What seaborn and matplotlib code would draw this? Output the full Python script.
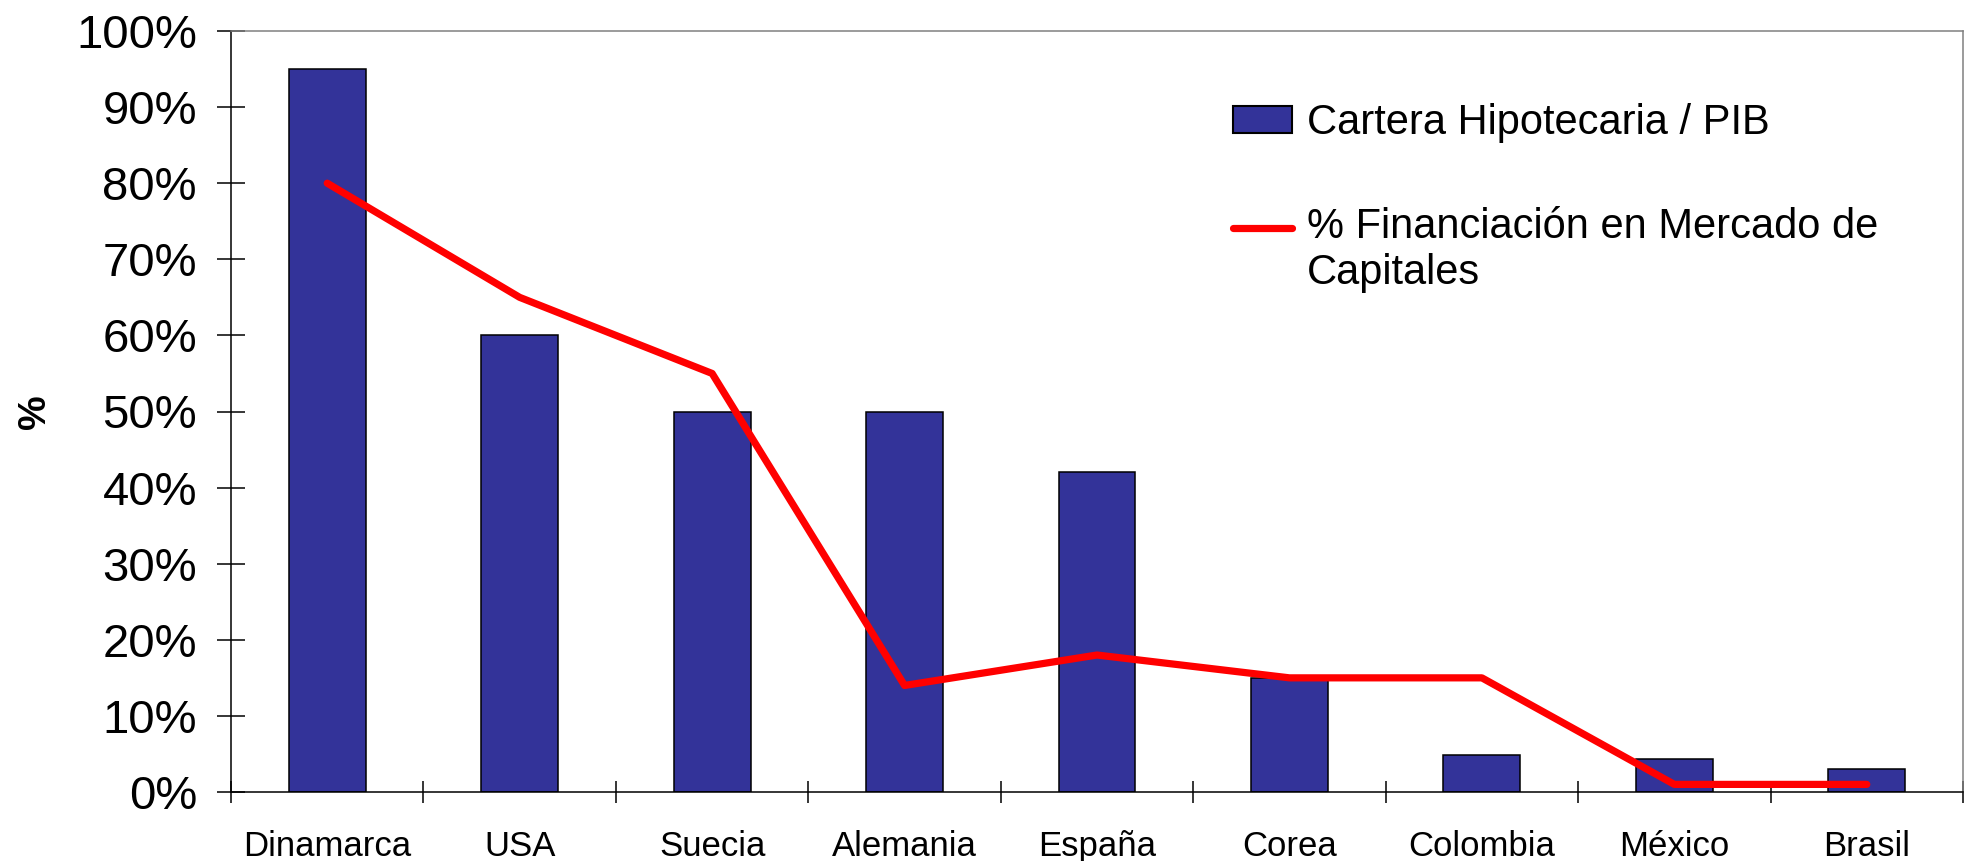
import numpy as np
import seaborn as sns
import matplotlib.pyplot as plt
from matplotlib.patches import Patch
from matplotlib.lines import Line2D

# Data
paises = ['Dinamarca', 'USA', 'Suecia', 'Alemania', 'España',
          'Corea', 'Colombia', 'México', 'Brasil']
cartera_pib = [95, 60, 50, 50, 42, 15, 4.8, 4.3, 3]
financiacion_mercado = [80, 65, 55, 14, 18, 15, 15, 1, 1]
y_ticks = list(range(0, 101, 10))
label_barras = 'Cartera Hipotecaria / PIB'
label_linea = '% Financiación en Mercado de\nCapitales'

sns.set_style('white')
plt.rcParams['font.family'] = ['Liberation Sans', 'DejaVu Sans']
plt.rcParams['text.color'] = 'black'
plt.rcParams['axes.labelcolor'] = 'black'
plt.rcParams['xtick.color'] = 'black'
plt.rcParams['ytick.color'] = 'black'

BAR_COLOR = '#333399'

fig = plt.figure(figsize=(19.68, 8.61), dpi=100)
ax = fig.add_axes([231 / 1968, 1 - 792 / 861, 1732 / 1968, 761 / 861])

# Bars
sns.barplot(x=paises, y=cartera_pib, color=BAR_COLOR, saturation=1,
            width=0.4, edgecolor='black', linewidth=1.1, ax=ax)

# Line
sns.lineplot(x=np.arange(len(paises)), y=financiacion_mercado, color='#FF0000',
             linewidth=5.2, solid_capstyle='round', solid_joinstyle='round',
             ax=ax, zorder=5, legend=False)

ax.set_xlim(-0.5, len(paises) - 0.5)
ax.set_ylim(0, 100)

# y axis
ax.set_yticks(y_ticks)
ax.set_yticklabels([f'{v}%' for v in y_ticks], fontsize=34)
ax.tick_params(axis='y', direction='inout', length=20, width=1.1,
               color='black', pad=14.5, left=True)
ax.set_ylabel('%', fontsize=28, fontweight='bold', labelpad=16.5)

# x axis: labels at centers, tick marks between categories
ax.set_xticks(np.arange(len(paises)))
ax.set_xticklabels(paises, fontsize=25)
ax.set_xticks(np.arange(len(paises) + 1) - 0.5, minor=True)
ax.tick_params(axis='x', which='major', length=0, pad=27.5)
ax.tick_params(axis='x', which='minor', direction='inout', length=16.5,
               width=1.1, color='black', bottom=True)
ax.set_xlabel('')

for side in ['left', 'bottom']:
    ax.spines[side].set_color('black')
    ax.spines[side].set_linewidth(1.1)
for side in ['top', 'right']:
    ax.spines[side].set_color('#808080')
    ax.spines[side].set_linewidth(1.1)

# Legend
handles = [Patch(facecolor=BAR_COLOR, edgecolor='black', linewidth=1.5),
           Line2D([], [], color='#FF0000', linewidth=5.2, solid_capstyle='round')]
leg = ax.legend(handles, [label_barras, label_linea], loc='upper left',
                bbox_to_anchor=(0.5785, 0.905), frameon=False, fontsize=30,
                handlelength=1.42, handleheight=0.6, handletextpad=0.36,
                labelspacing=1.53, borderpad=0, borderaxespad=0)
# move the line handle up to the first text line
lh = leg.legend_handles[1]
lh.set_ydata(np.asarray(lh.get_ydata()) + 17)

fig.savefig('out.png', dpi=100)
